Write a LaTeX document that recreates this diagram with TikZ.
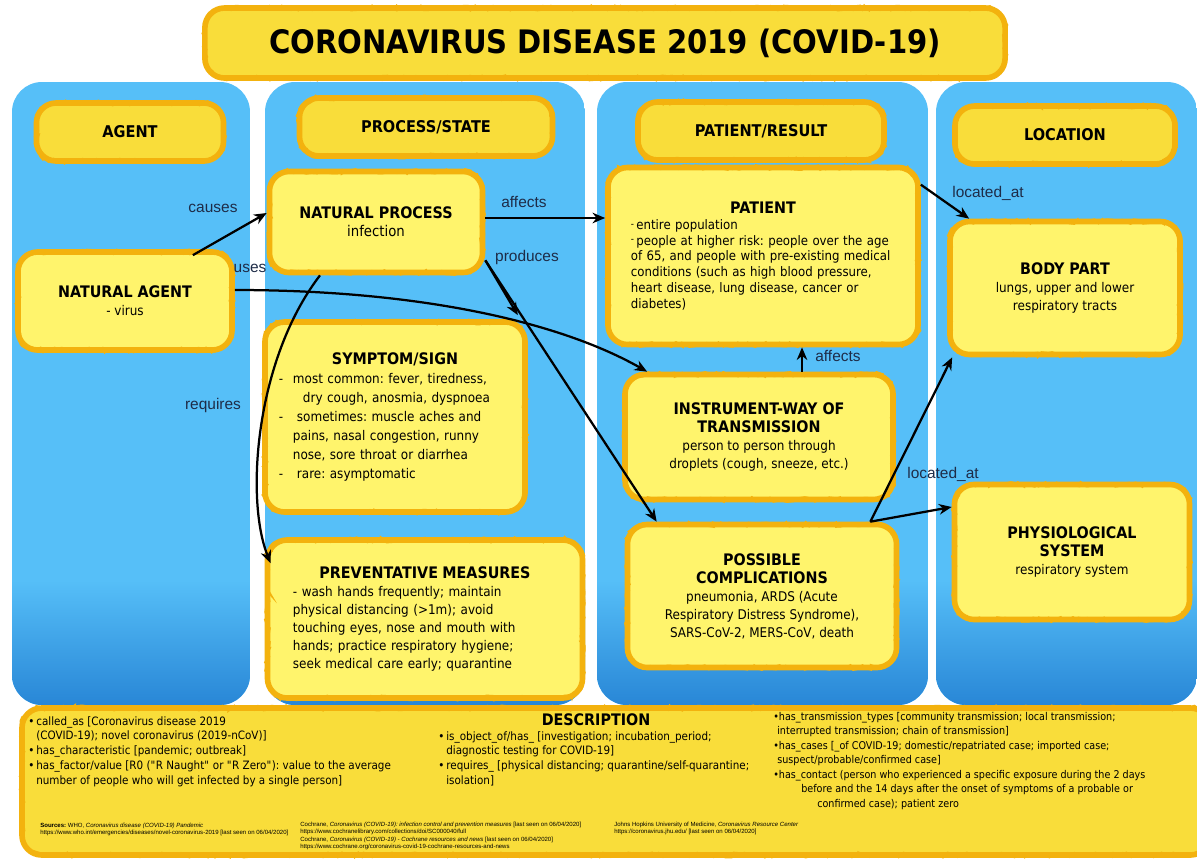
\documentclass[tikz,border=0pt]{standalone}
\usepackage{fontspec}
\setmainfont{DejaVu Sans}[FakeStretch=0.9]
\newfontfamily\lblfont{Liberation Sans}
\usepackage{color}
\usepackage{tikz}
\usetikzlibrary{arrows,arrows.meta,decorations.pathmorphing,positioning}
\frenchspacing

\definecolor{colblue}{RGB}{86,191,248}
\definecolor{coldeep}{RGB}{40,134,214}
\definecolor{boxyellow}{RGB}{255,244,108}
\definecolor{hdryellow}{RGB}{249,221,58}
\definecolor{brushorange}{RGB}{243,178,14}
\definecolor{lblcolor}{RGB}{30,44,72}
\newcommand{\bt}{\fontsize{11.3}{14}\selectfont\bfseries}

\begin{document}
\begin{tikzpicture}[x=0.025cm,y=-0.025cm,>={Stealth[length=9pt,width=7.5pt]},
	rough/.style={draw=brushorange,line width=4pt,rounded corners=14pt,
		postaction={draw=brushorange,line width=1.8pt,sharp corners,decorate,
			decoration={random steps,segment length=2.5pt,amplitude=1.5pt}}},
	concept/.style={rough,fill=boxyellow,font=\fontsize{9.5}{12.8}\selectfont,align=center},
	header/.style={rough,fill=hdryellow,font=\fontsize{11.5}{13}\selectfont\bfseries,minimum height=1.45cm},
	lbl/.style={font=\lblfont\fontsize{11}{13}\selectfont,text=lblcolor,inner sep=0pt},
	desc/.style={font=\fontsize{8.2}{10.6}\selectfont,align=left,anchor=north west,inner sep=0pt},
	src/.style={font=\lblfont\fontsize{4.3}{5.2}\selectfont,align=left,anchor=north west,inner sep=0pt},
	link/.style={->,line width=1.6pt}]
	\pgfmathsetseed{7}
	\useasboundingbox (0,0) rectangle (1197,858);
	\fill[white] (0,0) rectangle (1197,858);

	% columns
	\foreach \xa/\xb in {12/250,265/585,597/928,936/1197}{
		\begin{scope}
			\clip[rounded corners=0.75cm] (\xa,82) rectangle (\xb,705);
			\fill[colblue] (\xa,82) rectangle (\xb,705);
			\shade[top color=colblue,bottom color=coldeep] (\xa,580) rectangle (\xb,706);
		\end{scope}
	}

	% title and headers
	\node[rough,fill=hdryellow,minimum width=20cm,minimum height=1.75cm,font=\fontsize{23}{26}\selectfont\bfseries] (title) at (605,43) {CORONAVIRUS DISEASE 2019 (COVID-19)};
	\node[header,minimum width=4.675cm] (hagent) at (130,132) {AGENT};
	\node[header,minimum width=6.325cm] (hprocess) at (426,127) {PROCESS/STATE};
	\node[header,minimum width=6.15cm] (hpatient) at (761,131) {PATIENT/RESULT};
	\node[header,minimum width=5.5cm] (hlocation) at (1065,135) {LOCATION};

	% concepts
	\node[concept,minimum width=5.35cm,minimum height=2.45cm] (agent) at (125,301) {{\bt NATURAL AGENT}\\- virus};
	\node[concept,minimum width=5.325cm,minimum height=2.525cm] (process) at (376,222) {{\bt NATURAL PROCESS}\\{\fontsize{10.5}{13}\selectfont infection}};
	\node[concept,minimum width=6.5cm,minimum height=4.75cm,text width=5.8cm,align=left,font=\fontsize{9.5}{13.4}\selectfont] (symptom) at (395,417) {{\centering\bt SYMPTOM/SIGN\par}
		\makebox[0.35cm][l]{-}most common: fever, tiredness,\\
		\hspace*{0.6cm}dry cough, anosmia, dyspnoea\\
		\makebox[0.45cm][l]{-}sometimes: muscle aches and\\
		\hspace*{0.35cm}pains, nasal congestion, runny\\
		\hspace*{0.35cm}nose, sore throat or diarrhea\\
		\makebox[0.45cm][l]{-}rare: asymptomatic};
	\node[concept,minimum width=7.875cm,minimum height=3.95cm,text width=6.6cm,align=left] (prevent) at (425,619) {{\centering\bt PREVENTATIVE MEASURES\par}
		- wash hands frequently; maintain\\
		physical distancing (>1m); avoid\\
		touching eyes, nose and mouth with\\
		hands; practice respiratory hygiene;\\
		seek medical care early; quarantine};
	\node[concept,minimum width=7.75cm,minimum height=4.425cm,text width=6.6cm,align=left,font=\fontsize{9.3}{11.3}\selectfont] (patient) at (763,256) {{\centering\bt PATIENT\par}
		\raisebox{.3ex}{\scriptsize -}\,entire population\\
		\raisebox{.3ex}{\scriptsize -}\,people at higher risk: people over the age\\
		of 65, and people with pre-existing medical\\
		conditions (such as high blood pressure,\\
		heart disease, lung disease, cancer or\\
		diabetes)};
	\node[concept,minimum width=6.7cm,minimum height=3.125cm] (instr) at (759,437) {{\bt INSTRUMENT-WAY OF}\\{\bt TRANSMISSION}\\person to person through\\droplets (cough, sneeze, etc.)};
	\node[concept,minimum width=6.725cm,minimum height=3.575cm] (comp) at (762,596) {{\bt POSSIBLE}\\{\bt COMPLICATIONS}\\pneumonia, ARDS (Acute\\Respiratory Distress Syndrome),\\SARS-CoV-2, MERS-CoV, death};
	\node[concept,minimum width=5.75cm,minimum height=3.325cm] (body) at (1065,288) {{\bt BODY PART}\\lungs, upper and lower\\respiratory tracts};
	\node[concept,minimum width=5.875cm,minimum height=3.375cm] (physio) at (1072,552) {{\bt PHYSIOLOGICAL}\\{\bt SYSTEM}\\respiratory system};

	% links
	\draw[link] ([xshift=-1.05cm,yshift=-0.15cm]agent.north east) -- ([yshift=0.225cm]process.west);
	\draw[link] ([yshift=0.275cm]agent.east) .. controls (420,290) and (560,322) .. ([xshift=0.625cm]instr.north west);
	\draw[link] ([yshift=0.1cm]process.east) -- ([yshift=0.1cm]process.east -| patient.west);
	\draw[link] ([yshift=0.375cm]process.south east) -- ([xshift=-0.25cm,yshift=0.1cm]symptom.north east);
	\draw[link] ([yshift=0.375cm]process.south east) -- ([xshift=0.8cm]comp.north west);
	\draw[link] ([xshift=-1.4cm]process.south) .. controls (255,360) and (245,500) .. ([xshift=0.15cm,yshift=-0.65cm]prevent.north west);
	\draw[link] ([xshift=1.075cm]instr.north) -- ([xshift=1.075cm]instr.north |- patient.south);
	\draw[link] ([yshift=-0.5cm]patient.north east) -- ([xshift=0.55cm]body.north west);
	\draw[link] ([xshift=-0.725cm]comp.north east) -- ([xshift=0.125cm]body.south west);
	\draw[link] ([xshift=-0.725cm]comp.north east) -- ([yshift=1.125cm]physio.west);

	% link labels
	\node[lbl] (lcauses) at (213,208) {causes};
	\node[lbl] (luses) at (250,268) {uses};
	\node[lbl] (laffects) at (524,202) {affects};
	\node[lbl] (lproduces) at (527,257) {produces};
	\node[lbl] (lrequires) at (213,405) {requires};
	\node[lbl] (laffects2) at (838,356) {affects};
	\node[lbl] (llocated) at (988,193) {located\_at};
	\node[lbl] (llocated2) at (943,474) {located\_at};

	% description
	\draw[rough,fill=hdryellow] (22,708) rectangle (1210,855);
	\node[font=\bt] (desctitle) at (596,720) {DESCRIPTION};
	\node[desc] (dleft) at (28,716) {\textbullet\,called\_as [Coronavirus disease 2019\\
		\hspace*{0.2cm}(COVID-19); novel coronavirus (2019-nCoV)]\\
		\textbullet\,has\_characteristic [pandemic; outbreak]\\
		\textbullet\,has\_factor/value [R0 (\textquotedbl R Naught\textquotedbl{} or \textquotedbl R Zero\textquotedbl): value to the average\\
		\hspace*{0.2cm}number of people who will get infected by a single person]};
	\node[desc] (dmid) at (438,731) {\textbullet\,is\_object\_of/has\_ [investigation; incubation\_period;\\
		\hspace*{0.2cm}diagnostic testing for COVID-19]\\
		\textbullet\,requires\_ [physical distancing; quarantine/self-quarantine;\\
		\hspace*{0.2cm}isolation]};
	\node[desc,font=\fontsize{7.6}{10.3}\selectfont] (dright) at (773,712) {\textbullet has\_transmission\_types [community transmission; local transmission;\\
		\hspace*{0.1cm}interrupted transmission; chain of transmission]\\
		\textbullet has\_cases [\_of COVID-19; domestic/repatriated case; imported case;\\
		\hspace*{0.1cm}suspect/probable/confirmed case]\\
		\textbullet has\_contact (person who experienced a specific exposure during the 2 days\\
		\hspace*{0.7cm}before and the 14 days after the onset of symptoms of a probable or\\
		\hspace*{1.1cm}confirmed case); patient zero};

	% sources
	\node[src] (src1) at (40,823) {\textbf{Sources:} WHO, \textit{Coronavirus disease (COVID-19) Pandemic}\\
		https://www.who.int/emergencies/diseases/novel-coronavirus-2019 [last seen on 06/04/2020]};
	\node[src] (src2) at (300,822) {Cochrane, \textit{Coronavirus (COVID-19): infection control and prevention measures} [last seen on 06/04/2020]\\
		https://www.cochranelibrary.com/collections/doi/SC000040/full\\
		Cochrane, \textit{Coronavirus (COVID-19) - Cochrane resources and news} [last seen on 06/04/2020]\\
		https://www.cochrane.org/coronavirus-covid-19-cochrane-resources-and-news};
	\node[src] (src3) at (614,822) {Johns Hopkins University of Medicine, \textit{Coronavirus Resource Center}\\
		https://coronavirus.jhu.edu/ [last seen on 06/04/2020]};
\end{tikzpicture}
\end{document}
